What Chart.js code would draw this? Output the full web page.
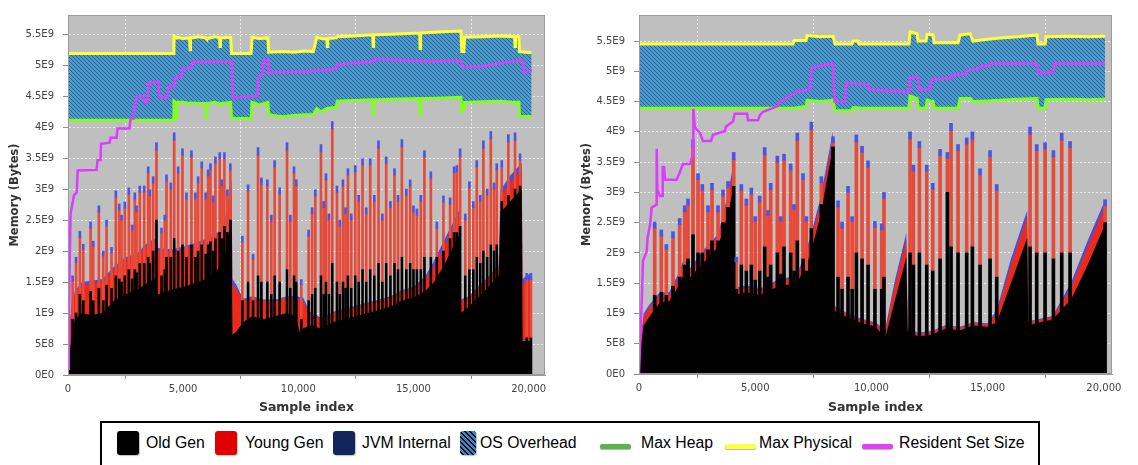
<!DOCTYPE html>
<html>
<head>
<meta charset="utf-8">
<script src="https://cdn.jsdelivr.net/npm/chart.js@4.4.1/dist/chart.umd.min.js"></script>
<style>
html,body{margin:0;padding:0;background:#fff;width:1138px;height:465px;overflow:hidden;position:relative;font-family:"Liberation Sans",Arial,sans-serif;}
canvas{position:absolute;top:0;}
#cl{left:0;}
#cr{left:572px;}
#legendBox{position:absolute;left:100px;top:421px;width:940px;height:70px;border:2px solid #000;box-sizing:border-box;}
.sw{position:absolute;top:431px;width:22px;height:24px;border-radius:3px;box-shadow:1px 1px 1px rgba(0,0,0,0.25);}
.ln{position:absolute;top:444px;width:31px;height:5px;border-radius:2px;box-shadow:0 1px 1px rgba(0,0,0,0.3);}
.tx{position:absolute;top:434px;font-size:15.8px;line-height:18px;color:#000;white-space:nowrap;}
</style>
</head>
<body>
<canvas id="cl" width="560" height="420"></canvas>
<canvas id="cr" width="566" height="420"></canvas>
<div id="legendBox"></div>
<div class="sw" style="left:117px;background:#000"></div><div class="tx" style="left:146px">Old Gen</div>
<div class="sw" style="left:215px;background:#e00000"></div><div class="tx" style="left:245px">Young Gen</div>
<div class="sw" style="left:333px;background:#13265c"></div><div class="tx" style="left:362px">JVM Internal</div>
<div class="sw" style="left:460px;width:16px;background:repeating-linear-gradient(45deg,#4a80c8 0 2px,#111 2px 3.5px)"></div><div class="tx" style="left:480px">OS Overhead</div>
<div class="ln" style="left:600px;background:#5db24c"></div><div class="tx" style="left:641px">Max Heap</div>
<div class="ln" style="left:725px;background:#ffff40"></div><div class="tx" style="left:759px">Max Physical</div>
<div class="ln" style="left:862px;background:#e040fa"></div><div class="tx" style="left:899px">Resident Set Size</div>

<script>
// ===== Values in units of 1E9 bytes; x = sample index =====

// ---------- LEFT chart ----------
const leftBaseIdx   = [0, 40, 150, 300, 600, 1000, 1500, 2000, 2500, 3000, 3500, 3800, 3900, 4500, 5000, 5500, 6000, 6500, 6800, 7100, 7140, 7300, 7600, 8000, 8500, 9000, 9500, 9900, 10050, 10200, 10500, 11000, 11500, 12000, 12500, 13000, 13500, 14000, 14500, 15000, 15500, 15850, 16300, 16700, 17000, 17060, 17400, 17800, 18200, 18700, 18780, 19200, 19700, 19740, 19900, 20130, 20140];
const leftBaseOld   = [0, 0.3, 0.6, 0.9, 1.0, 0.97, 1.0, 1.2, 1.3, 1.37, 1.5, 1.55, 1.3, 1.38, 1.42, 1.48, 1.55, 1.7, 1.9, 2.5, 0.65, 0.7, 0.85, 0.95, 0.9, 0.95, 1.0, 0.95, 0.7, 0.75, 0.8, 0.75, 0.85, 0.9, 0.95, 1.0, 1.05, 1.1, 1.2, 1.25, 1.35, 1.48, 1.75, 2.05, 2.27, 1.0, 1.1, 1.25, 1.4, 1.6, 2.63, 2.8, 3.0, 0.55, 0.55, 0.55, 0];
const leftBaseYoung = [0, 0.25, 0.5, 0.4, 0.45, 0.5, 0.5, 0.5, 0.55, 0.55, 0.6, 0.6, 0.7, 0.6, 0.6, 0.6, 0.6, 0.55, 0.5, 0.55, 0.8, 0.7, 0.35, 0.3, 0.3, 0.25, 0.25, 0.3, 0.5, 0.45, 0.2, 0.15, 0.15, 0.15, 0.15, 0.15, 0.15, 0.15, 0.15, 0.15, 0.2, 0.25, 0.3, 0.3, 0.3, 0.2, 0.15, 0.15, 0.15, 0.15, 0.25, 0.3, 0.3, 0.9, 0.95, 1.0, 0];
const leftBaseJvm   = [0, 0.04, 0.05, 0.05, 0.05, 0.05, 0.05, 0.05, 0.05, 0.05, 0.05, 0.05, 0.05, 0.05, 0.05, 0.05, 0.05, 0.05, 0.06, 0.1, 0.1, 0.06, 0.03, 0.02, 0.02, 0.02, 0.02, 0.03, 0.06, 0.06, 0.02, 0.02, 0.02, 0.02, 0.02, 0.02, 0.02, 0.02, 0.02, 0.02, 0.04, 0.08, 0.1, 0.1, 0.1, 0.02, 0.02, 0.02, 0.02, 0.02, 0.1, 0.12, 0.12, 0.1, 0.1, 0.1, 0];

const leftSpikeIdx = [200, 350, 516, 663, 980, 1097, 1340, 1531, 1674, 1891, 2077, 2225, 2324, 2467, 2641, 2788, 2901, 2975, 3118, 3309, 3482, 3552, 3699, 3842, 4059, 4202, 4276, 4462, 4610, 4783, 4970, 5143, 5360, 5533, 5650, 5807, 5980, 6084, 6184, 6301, 6401, 6587, 6674, 6791, 6921, 7050, 7572, 7819, 8036, 8252, 8396, 8656, 8829, 8972, 9189, 9510, 9653, 9813, 9913, 10130, 10447, 10600, 10737, 10984, 11100, 11201, 11330, 11474, 11678, 11800, 11938, 12050, 12155, 12300, 12472, 12620, 12788, 12950, 13122, 13300, 13482, 13650, 13816, 14000, 14176, 14330, 14497, 14690, 14857, 15000, 15148, 15320, 15477, 15755, 16015, 16301, 16591, 16765, 16882, 17025, 17250, 17428, 17600, 17749, 17900, 18036, 18200, 18357, 18500, 18617, 18834, 19120, 19410, 19627, 19917, 20100];
const leftSpikeTop = [1.6, 1.9, 2.32, 2.11, 2.47, 2.16, 2.73, 2.0, 2.5, 2.06, 2.97, 2.76, 2.58, 2.79, 3.02, 2.42, 2.94, 2.73, 3.05, 3.05, 3.36, 2.99, 3.2, 3.75, 2.37, 2.58, 3.23, 3.1, 3.91, 3.36, 3.65, 2.94, 3.62, 2.94, 3.2, 3.44, 2.94, 3.31, 3.41, 2.89, 3.52, 3.59, 3.15, 3.59, 2.99, 3.41, 2.24, 3.07, 1.95, 3.67, 3.18, 3.15, 2.58, 3.46, 3.02, 3.75, 2.58, 3.36, 3.15, 1.54, 2.34, 2.7, 2.99, 3.72, 2.8, 3.25, 2.6, 4.09, 3.05, 2.5, 3.15, 2.7, 3.33, 2.6, 3.38, 2.9, 3.49, 2.7, 3.49, 2.9, 3.78, 2.6, 3.52, 2.8, 3.33, 2.9, 3.8, 3.0, 3.15, 2.73, 2.68, 2.9, 3.62, 3.28, 2.47, 2.89, 2.86, 3.36, 3.38, 3.65, 2.6, 3.12, 2.8, 3.46, 2.9, 3.78, 3.0, 3.93, 3.1, 3.41, 3.46, 3.88, 3.91, 3.57, 1.64, 1.64];
const leftSpikeOld = [0.9, 1.0, 1.3, 1.2, 1.35, 1.2, 1.4, 1.2, 1.45, 1.4, 1.6, 1.55, 1.5, 1.6, 1.7, 1.55, 1.7, 1.65, 1.8, 1.8, 1.9, 1.8, 2.0, 2.5, 1.6, 1.7, 1.9, 1.9, 2.2, 2.0, 2.1, 1.9, 2.1, 1.9, 2.0, 2.1, 1.95, 2.1, 2.15, 2.0, 2.2, 2.3, 2.2, 2.4, 2.3, 2.5, 1.2, 1.5, 1.2, 1.6, 1.5, 1.5, 1.3, 1.6, 1.5, 1.7, 1.4, 1.6, 1.5, 0.9, 1.2, 1.3, 1.4, 1.6, 1.3, 1.5, 1.3, 1.8, 1.5, 1.3, 1.5, 1.4, 1.6, 1.4, 1.6, 1.5, 1.7, 1.5, 1.7, 1.6, 1.8, 1.5, 1.8, 1.6, 1.8, 1.7, 1.9, 1.7, 1.8, 1.7, 1.7, 1.7, 1.9, 1.9, 1.9, 2.0, 2.2, 2.3, 2.3, 2.4, 1.6, 1.7, 1.7, 1.9, 1.8, 2.0, 1.9, 2.1, 2.0, 2.1, 2.8, 2.9, 3.0, 3.05, 0.6, 0.6];
const leftSpikeJvm = [0.08, 0.08, 0.1, 0.08, 0.1, 0.08, 0.1, 0.08, 0.1, 0.08, 0.1, 0.1, 0.08, 0.1, 0.1, 0.08, 0.1, 0.1, 0.1, 0.1, 0.1, 0.1, 0.1, 0.12, 0.08, 0.08, 0.1, 0.1, 0.12, 0.1, 0.1, 0.1, 0.1, 0.1, 0.1, 0.1, 0.1, 0.1, 0.1, 0.1, 0.1, 0.1, 0.1, 0.1, 0.1, 0.1, 0.1, 0.1, 0.08, 0.12, 0.1, 0.1, 0.1, 0.1, 0.1, 0.12, 0.1, 0.1, 0.1, 0.08, 0.1, 0.1, 0.1, 0.12, 0.1, 0.1, 0.1, 0.12, 0.1, 0.1, 0.1, 0.1, 0.1, 0.1, 0.1, 0.1, 0.1, 0.1, 0.1, 0.1, 0.12, 0.1, 0.1, 0.1, 0.1, 0.1, 0.12, 0.1, 0.1, 0.1, 0.1, 0.1, 0.1, 0.1, 0.1, 0.1, 0.1, 0.1, 0.1, 0.12, 0.1, 0.1, 0.1, 0.1, 0.1, 0.12, 0.1, 0.12, 0.1, 0.1, 0.1, 0.12, 0.12, 0.1, 0.1, 0.1];

const leftTopIdx  = [0, 4560, 4600, 4680, 4700, 4720, 5000, 5280, 5300, 5320, 5700, 5980, 6000, 6020, 6400, 6580, 6600, 6620, 7060, 7100, 7950, 7990, 8300, 8680, 8713, 9300, 9800, 10300, 10650, 10800, 11000, 11240, 11260, 11280, 11650, 11690, 12400, 13230, 13250, 13270, 14000, 15270, 15290, 15310, 16300, 17060, 17098, 17190, 17220, 18000, 18800, 19390, 19410, 19430, 19580, 19600, 20130];
const leftMaxPhys = [5.19, 5.19, 5.47, 5.45, 5.44, 5.45, 5.43, 5.44, 5.25, 5.44, 5.46, 5.44, 5.44, 5.43, 5.46, 5.44, 5.3, 5.44, 5.45, 5.19, 5.19, 5.45, 5.43, 5.44, 5.21, 5.22, 5.21, 5.23, 5.22, 5.45, 5.43, 5.42, 5.3, 5.43, 5.44, 5.46, 5.47, 5.49, 5.3, 5.49, 5.5, 5.52, 5.27, 5.52, 5.54, 5.55, 5.22, 5.22, 5.45, 5.46, 5.47, 5.46, 5.3, 5.46, 5.46, 5.22, 5.2];
const leftMaxHeap = [4.11, 4.11, 4.42, 4.4, 4.15, 4.4, 4.4, 4.38, 4.38, 4.39, 4.38, 4.38, 4.15, 4.38, 4.4, 4.37, 4.36, 4.38, 4.4, 4.14, 4.14, 4.4, 4.36, 4.4, 4.2, 4.17, 4.19, 4.2, 4.2, 4.3, 4.25, 4.3, 4.3, 4.3, 4.32, 4.42, 4.43, 4.44, 4.2, 4.44, 4.45, 4.46, 4.2, 4.46, 4.47, 4.48, 4.25, 4.28, 4.4, 4.41, 4.42, 4.4, 4.38, 4.4, 4.4, 4.17, 4.17];

const leftRssIdx = [0, 40, 110, 260, 380, 420, 1240, 1284, 1414, 1435, 1804, 1847, 2108, 2150, 2671, 2715, 2845, 2888, 2997, 3278, 3322, 3452, 3495, 3929, 3972, 4319, 4362, 4623, 4666, 4926, 4970, 5360, 5403, 7116, 7160, 8222, 8265, 8439, 8482, 8699, 8720, 10087, 11258, 11648, 11691, 12255, 13209, 13252, 14423, 15724, 17068, 17112, 17892, 19627, 19757, 19800, 20147];
const leftRss    = [0.1, 1.0, 2.6, 2.9, 2.95, 3.3, 3.31, 3.47, 3.47, 3.73, 3.75, 3.83, 3.83, 3.98, 3.98, 4.14, 4.14, 4.34, 4.5, 4.5, 4.4, 4.4, 4.72, 4.73, 4.48, 4.48, 4.66, 4.66, 4.81, 4.81, 4.95, 4.95, 5.05, 5.06, 4.48, 4.5, 4.81, 4.85, 5.08, 5.08, 4.88, 4.9, 4.92, 4.95, 5.0, 5.03, 5.05, 5.1, 5.08, 5.06, 5.07, 4.97, 4.98, 5.08, 5.07, 4.88, 4.92];

// ---------- RIGHT chart ----------
const rightBaseIdx   = [0, 60, 200, 450, 900, 1300, 1700, 2100, 2200, 2800, 3400, 3800, 4080, 4150, 4600, 5200, 6000, 6800, 7350, 7800, 8340, 8380, 8900, 9500, 10200, 10580, 11000, 11500, 11560, 12000, 12600, 13200, 13800, 14400, 15000, 15400, 16000, 16700, 16750, 17200, 17800, 18600, 19300, 20040, 20060];
const rightBaseOld   = [0, 0.4, 0.8, 0.95, 1.18, 1.2, 1.45, 1.8, 1.6, 1.85, 2.1, 2.6, 3.1, 1.3, 1.35, 1.3, 1.45, 1.5, 1.95, 2.6, 3.75, 1.05, 0.95, 0.85, 0.78, 0.58, 1.2, 1.93, 0.7, 0.62, 0.65, 0.75, 0.72, 0.8, 0.78, 0.86, 1.5, 2.25, 0.8, 0.85, 0.9, 1.24, 1.8, 2.46, 0];
const rightBaseYoung = [0, 0.1, 0.15, 0.15, 0.12, 0.1, 0.15, 0.2, 0.1, 0.15, 0.15, 0.25, 0.3, 0.1, 0.08, 0.08, 0.08, 0.1, 0.2, 0.2, 0.15, 0.06, 0.05, 0.05, 0.05, 0.1, 0.25, 0.3, 0.05, 0.04, 0.04, 0.04, 0.04, 0.04, 0.04, 0.15, 0.3, 0.35, 0.05, 0.04, 0.04, 0.2, 0.3, 0.3, 0];
const rightBaseJvm   = [0, 0.04, 0.05, 0.05, 0.05, 0.05, 0.06, 0.08, 0.05, 0.06, 0.06, 0.08, 0.1, 0.03, 0.03, 0.03, 0.03, 0.03, 0.08, 0.1, 0.1, 0.02, 0.02, 0.02, 0.02, 0.04, 0.08, 0.1, 0.02, 0.02, 0.02, 0.02, 0.02, 0.02, 0.02, 0.06, 0.1, 0.1, 0.02, 0.02, 0.02, 0.08, 0.1, 0.1, 0];

const rightSpikeIdx = [675, 960, 1176, 1463, 1750, 1965, 2108, 2324, 2539, 2725, 2969, 3141, 3400, 3614, 3830, 4074, 4188, 4403, 4618, 4833, 5000, 5192, 5407, 5550, 5666, 5952, 6100, 6239, 6526, 6670, 6812, 7057, 7200, 7415, 7846, 8348, 8563, 8735, 8993, 9170, 9351, 9596, 9854, 10150, 10443, 10540, 11661, 11805, 12063, 12380, 12638, 12952, 13268, 13425, 13726, 14099, 14343, 14673, 15103, 15390, 16824, 17111, 17470, 17829, 18187, 18546, 20052];
const rightSpikeTop = [2.51, 2.38, 2.14, 2.35, 2.57, 2.78, 2.89, 3.87, 3.31, 3.13, 2.78, 3.15, 2.78, 3.04, 3.18, 3.66, 1.93, 3.13, 2.89, 3.07, 2.6, 2.94, 3.74, 2.7, 3.15, 3.6, 2.6, 3.63, 3.47, 2.8, 3.98, 3.31, 2.6, 4.16, 3.26, 3.92, 2.86, 2.51, 3.1, 2.6, 3.95, 3.76, 3.52, 2.52, 2.48, 3.0, 4.0, 3.45, 3.84, 3.45, 3.15, 3.71, 3.66, 4.14, 3.79, 3.9, 4.0, 3.39, 3.69, 3.13, 4.08, 3.79, 3.82, 3.69, 3.98, 3.84, 2.88];
const rightSpikeOld = [1.3, 1.35, 1.3, 1.45, 1.6, 1.8, 1.9, 2.3, 2.0, 2.0, 2.05, 2.2, 2.2, 2.5, 2.75, 3.1, 1.4, 1.8, 1.7, 1.8, 1.55, 1.7, 2.1, 1.6, 1.8, 2.0, 1.65, 2.1, 2.0, 1.7, 2.2, 1.9, 1.7, 2.4, 2.8, 3.75, 1.6, 1.4, 1.6, 1.4, 2.0, 1.9, 1.8, 1.4, 1.4, 1.6, 2.0, 1.8, 2.0, 1.8, 1.7, 1.9, 3.0, 2.1, 2.0, 2.0, 2.1, 1.8, 1.9, 1.6, 2.1, 2.0, 2.0, 1.9, 2.0, 2.0, 2.5];
const rightSpikeJvm = [0.1, 0.1, 0.08, 0.1, 0.1, 0.1, 0.1, 0.12, 0.1, 0.1, 0.1, 0.1, 0.1, 0.1, 0.1, 0.12, 0.08, 0.1, 0.1, 0.1, 0.08, 0.1, 0.12, 0.08, 0.1, 0.1, 0.08, 0.1, 0.1, 0.08, 0.12, 0.1, 0.08, 0.12, 0.1, 0.1, 0.1, 0.1, 0.1, 0.08, 0.12, 0.1, 0.1, 0.1, 0.1, 0.1, 0.12, 0.1, 0.1, 0.1, 0.1, 0.1, 0.1, 0.12, 0.1, 0.1, 0.12, 0.1, 0.1, 0.1, 0.12, 0.1, 0.1, 0.1, 0.12, 0.1, 0.1];

const rightTopIdx  = [0, 6627, 6670, 7186, 7229, 7800, 8348, 8434, 9165, 9208, 9423, 9466, 11618, 11661, 11962, 12005, 12349, 12392, 12650, 12694, 13726, 13812, 14243, 14372, 15000, 15534, 16300, 17126, 17169, 17470, 17513, 18546, 19300, 20052];
const rightMaxPhys = [5.45, 5.45, 5.51, 5.51, 5.59, 5.57, 5.58, 5.45, 5.45, 5.5, 5.5, 5.45, 5.45, 5.65, 5.62, 5.5, 5.5, 5.61, 5.6, 5.47, 5.47, 5.6, 5.62, 5.5, 5.53, 5.55, 5.57, 5.6, 5.45, 5.45, 5.57, 5.58, 5.57, 5.58];
const rightMaxHeap = [4.39, 4.39, 4.39, 4.42, 4.52, 4.5, 4.52, 4.35, 4.35, 4.4, 4.4, 4.39, 4.39, 4.59, 4.55, 4.39, 4.39, 4.52, 4.5, 4.39, 4.39, 4.55, 4.55, 4.5, 4.51, 4.52, 4.54, 4.55, 4.39, 4.39, 4.53, 4.54, 4.53, 4.54];

const rightRssIdx = [0, 116, 172, 331, 370, 473, 546, 688, 740, 761, 790, 900, 1000, 1020, 1080, 1119, 1622, 1764, 1893, 2194, 2324, 2337, 2400, 2625, 2754, 3098, 3184, 3688, 3744, 4045, 4118, 4650, 4690, 5120, 5194, 5336, 5938, 6067, 6368, 6799, 7358, 7444, 7917, 8348, 8412, 8864, 8907, 9854, 9897, 11532, 11618, 11661, 12005, 12048, 12522, 12565, 13425, 13468, 14071, 14114, 14630, 14673, 15103, 15146, 17126, 17169, 17814, 17900, 20052];
const rightRss    = [0, 1.18, 1.87, 2.03, 2.25, 2.46, 2.75, 2.78, 2.8, 3.72, 3.05, 2.94, 2.94, 3.42, 3.42, 3.21, 3.21, 3.34, 3.47, 3.47, 3.63, 4.38, 4.08, 3.98, 3.85, 3.85, 3.95, 4.01, 4.09, 4.17, 4.3, 4.3, 4.19, 4.19, 4.27, 4.33, 4.42, 4.49, 4.57, 4.66, 4.7, 5.06, 5.1, 5.13, 4.5, 4.5, 4.81, 4.78, 4.7, 4.66, 4.66, 4.9, 4.9, 4.7, 4.7, 4.86, 4.89, 4.94, 4.96, 5.02, 5.04, 5.08, 5.1, 5.13, 5.13, 4.97, 4.98, 5.13, 5.13];

// ---------- axis ticks ----------
const xTickValues = [0, 5000, 10000, 15000, 20000];
const yTickStepGB = 0.5;

// ===== helpers (build library datasets from the arrays) =====
const pts = (xs, ys) => xs.map((x, i) => ({x, y: ys[i]}));
const cum = (xs, ...arrs) => xs.map((x, i) => ({x, y: arrs.reduce((s, a) => s + a[i], 0)}));
const sci = v => {
  const b = v * 1e9;
  if (Math.abs(b) < 1) return '0E0';
  const e = Math.floor(Math.log10(b) + 1e-9);
  const m = +(b / Math.pow(10, e)).toFixed(2);
  return m + 'E' + e;
};

function makeHatch(ctx) {
  const t = document.createElement('canvas'); t.width = 4; t.height = 4;
  const g = t.getContext('2d');
  g.fillStyle = '#4c9cc7'; g.fillRect(0, 0, 4, 4);
  g.strokeStyle = '#2b5fa6'; g.lineWidth = 1;
  g.beginPath();
  g.moveTo(0, 0); g.lineTo(4, 4);
  g.moveTo(-1, 3); g.lineTo(1, 5);
  g.moveTo(3, -1); g.lineTo(5, 1);
  g.stroke();
  return ctx.createPattern(t, 'repeat');
}

const plotBg = {
  id: 'plotBg',
  beforeDraw(c) {
    const {ctx, chartArea: a} = c;
    ctx.save(); ctx.fillStyle = '#bfbfbf';
    ctx.fillRect(a.left, a.top, a.right - a.left, a.bottom - a.top); ctx.restore();
  },
  afterDraw(c) {
    const {ctx, chartArea: a} = c;
    ctx.save(); ctx.strokeStyle = '#9a9a9a'; ctx.lineWidth = 1;
    ctx.strokeRect(a.left + 0.5, a.top + 0.5, a.right - a.left - 1, a.bottom - a.top - 1); ctx.restore();
  }
};

function makeChart(canvas, d) {
  const ctx = canvas.getContext('2d');
  const tickFont = {family: 'DejaVu Sans', size: 10};
  const gridOpts = {color: '#ececec', lineWidth: 1, tickColor: '#8a8a8a', tickLength: 4, tickBorderDash: []};
  return new Chart(ctx, {
    type: 'line',
    data: {
      datasets: [
        {label: 'Max Heap', data: pts(d.topIdx, d.maxHeap), borderColor: '#80ff1e', borderWidth: 3, pointRadius: 0, fill: false, order: 10},
        {label: 'OS Overhead', data: pts(d.topIdx, d.maxPhys), borderColor: 'transparent', borderWidth: 0, pointRadius: 0, backgroundColor: makeHatch(ctx), fill: {target: 0}, order: 100},
        {label: 'Max Physical', data: pts(d.topIdx, d.maxPhys), borderColor: '#ffff3a', borderWidth: 3, pointRadius: 0, fill: false, order: 9},
        {label: 'JVM Internal', data: cum(d.baseIdx, d.baseOld, d.baseYoung, d.baseJvm), borderColor: 'transparent', borderWidth: 0, pointRadius: 0, backgroundColor: '#4650dc', fill: 'origin', order: 90},
        {label: 'Young Gen', data: cum(d.baseIdx, d.baseOld, d.baseYoung), borderColor: 'transparent', borderWidth: 0, pointRadius: 0, backgroundColor: '#ec2a1c', fill: 'origin', order: 89},
        {label: 'Old Gen', data: pts(d.baseIdx, d.baseOld), borderColor: 'transparent', borderWidth: 0, pointRadius: 0, backgroundColor: '#000000', fill: 'origin', order: 88},
        {type: 'bar', label: 'Young Gen spikes', data: d.spikeIdx.map((x, i) => ({x, y: [d.spikeOld[i], d.spikeTop[i] - d.spikeJvm[i]]})), backgroundColor: '#e64a38', borderWidth: 0, barThickness: d.barW, grouped: false, order: 80},
        {type: 'bar', label: 'Old Gen spikes', data: d.spikeIdx.map((x, i) => ({x, y: [0, d.spikeOld[i]]})), backgroundColor: '#000000', borderWidth: 0, barThickness: d.barW, grouped: false, order: 79},
        {type: 'bar', label: 'JVM Internal spikes', data: d.spikeIdx.map((x, i) => ({x, y: [d.spikeTop[i] - d.spikeJvm[i], d.spikeTop[i]]})), backgroundColor: '#4a55e6', borderWidth: 0, barThickness: d.barW, grouped: false, order: 78},
        {label: 'Resident Set Size', data: pts(d.rssIdx, d.rss), borderColor: '#dc3cff', borderWidth: 2.5, pointRadius: 0, fill: false, order: 5}
      ]
    },
    options: {
      responsive: false, animation: false, events: [],
      layout: {padding: {top: 3, right: d.padRight, left: 0, bottom: 0}},
      plugins: {legend: {display: false}, tooltip: {enabled: false}},
      elements: {line: {tension: 0}},
      scales: {
        x: {
          type: 'linear', min: 0, max: d.xMax, offset: false,
          afterBuildTicks: s => { s.ticks = xTickValues.map(v => ({value: v})); },
          ticks: {autoSkip: false, maxRotation: 0, padding: 4, color: '#444', font: tickFont,
                  callback: v => v.toLocaleString('en-US')},
          grid: gridOpts,
          border: {color: '#9a9a9a', dash: [2, 2]},
          title: {display: true, text: 'Sample index', color: '#333', font: {family: 'DejaVu Sans', size: 12.5, weight: 'bold'}, padding: {top: 0, bottom: 4.5}},
          afterFit: s => { s.height = d.xAxisH; }
        },
        y: {
          min: 0, max: d.yMax,
          ticks: {stepSize: yTickStepGB, includeBounds: false, padding: 9, color: '#444', font: tickFont, callback: v => sci(v)},
          grid: Object.assign({}, gridOpts, {tickLength: 5}),
          border: {color: '#9a9a9a', dash: [2, 2]},
          title: {display: true, text: 'Memory (Bytes)', color: '#333', font: {family: 'DejaVu Sans', size: 11.5, weight: 'bold'}, padding: {top: 8, bottom: 0}},
          afterFit: s => { s.width = d.yAxisW; }
        }
      }
    },
    plugins: [plotBg]
  });
}

makeChart(document.getElementById('cl'), {
  baseIdx: leftBaseIdx, baseOld: leftBaseOld, baseYoung: leftBaseYoung, baseJvm: leftBaseJvm,
  spikeIdx: leftSpikeIdx, spikeTop: leftSpikeTop, spikeOld: leftSpikeOld, spikeJvm: leftSpikeJvm,
  topIdx: leftTopIdx, maxPhys: leftMaxPhys, maxHeap: leftMaxHeap,
  rssIdx: leftRssIdx, rss: leftRss,
  xMax: 20711, yMax: 5.81, yAxisW: 68, xAxisH: 45, padRight: 15, barW: 2
});
makeChart(document.getElementById('cr'), {
  baseIdx: rightBaseIdx, baseOld: rightBaseOld, baseYoung: rightBaseYoung, baseJvm: rightBaseJvm,
  spikeIdx: rightSpikeIdx, spikeTop: rightSpikeTop, spikeOld: rightSpikeOld, spikeJvm: rightSpikeJvm,
  topIdx: rightTopIdx, maxPhys: rightMaxPhys, maxHeap: rightMaxHeap,
  rssIdx: rightRssIdx, rss: rightRss,
  xMax: 20350, yMax: 5.93, yAxisW: 67, xAxisH: 46, padRight: 26, barW: 3
});
</script>
</body>
</html>
